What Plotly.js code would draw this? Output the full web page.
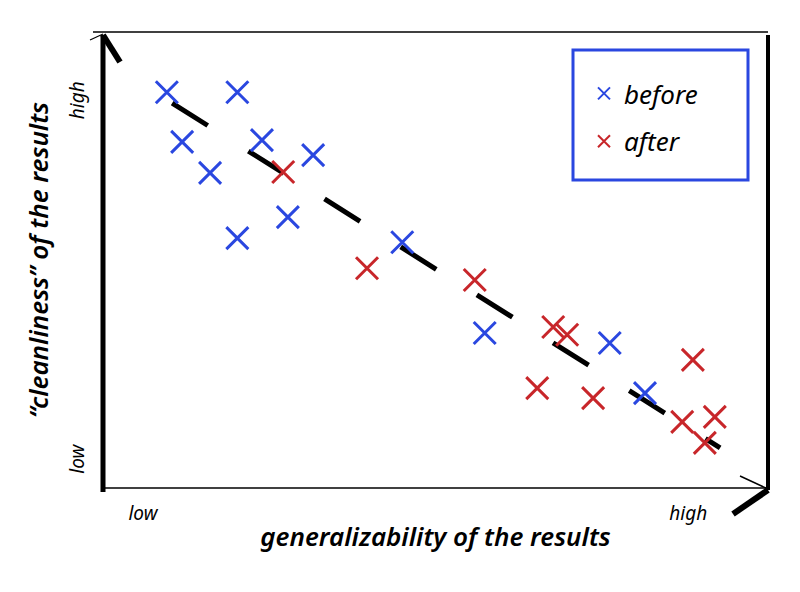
<!DOCTYPE html>
<html>
<head>
<meta charset="utf-8">
<script src="https://cdn.plot.ly/plotly-3.0.1.min.js"></script>
<style>html,body{margin:0;padding:0;background:#fff;}#chart{width:800px;height:592px;}</style>
</head>
<body>
<div id="chart"></div>
<script>
// Data (arbitrary 0-100 scale on both axes)
const beforeX = [9.6, 20.2, 11.9, 16.1, 23.9, 31.6, 27.8, 20.2, 45.0, 57.4, 76.2, 81.5];
const beforeY = [86.8, 86.8, 75.9, 69.1, 76.3, 73.0, 59.4, 54.8, 53.9, 34.0, 31.8, 20.8];
const afterX = [27.1, 39.7, 55.9, 67.7, 69.8, 65.3, 73.7, 88.7, 87.1, 92.0, 90.5];
const afterY = [69.3, 48.2, 45.6, 35.3, 33.6, 21.9, 19.7, 28.1, 14.5, 15.6, 9.9];
const trendX = [10.4, 92.8];
const trendY = [84.4, 8.8];
const xTickVals = [6.0, 88.0];
const yTickVals = [5.7, 84.4];
const tickText = ["low", "high"];
const seriesNames = ["before", "after"];

const FONT = "Noto Sans, DejaVu Sans, sans-serif";
const BLUE = "#2a47e0";
const RED = "#c8262a";

const traces = [
  {
    x: trendX, y: trendY, mode: "lines", showlegend: false, hoverinfo: "skip",
    line: {color: "#000", width: 5, dash: "42px,48px"}
  },
  {
    x: beforeX, y: beforeY, mode: "markers", name: seriesNames[0], legendgroup: "a",
    marker: {symbol: "x-thin", size: 22, color: BLUE, line: {color: BLUE, width: 3}}
  },
  {
    x: afterX, y: afterY, mode: "markers", name: seriesNames[1], legendgroup: "b",
    marker: {symbol: "x-thin", size: 22, color: RED, line: {color: RED, width: 3}}
  }
];

const W = 665, H = 456; // plot area px
const px = v => (v - 103) / W;
const py = v => (488 - v) / H;
const ln = (x0, y0, x1, y1, w) => ({
  type: "line", xref: "paper", yref: "paper",
  x0: px(x0), y0: py(y0), x1: px(x1), y1: py(y1),
  line: {color: "#000", width: w}, layer: "above"
});

const shapes = [
  ln(93, 32, 768, 32, 1.5),      // top border
  ln(103, 488, 768, 488, 1.5),   // bottom axis
  ln(103, 35, 103, 492, 5),      // left axis
  ln(768, 35, 768, 490, 4),      // right border
  ln(103, 35, 120, 62, 6),       // top arrow head
  ln(103, 34, 90, 40, 1.2),
  ln(740, 476, 768, 489, 1.5),   // right arrow head
  ln(733, 514, 768, 490, 6),
  {type: "rect", xref: "paper", yref: "paper",
   x0: px(573), y0: py(180), x1: px(748), y1: py(50),
   line: {color: BLUE, width: 3}, fillcolor: "rgba(0,0,0,0)", layer: "above"}
];

const layout = {
  width: 800, height: 592,
  margin: {l: 103, r: 32, t: 32, b: 104},
  paper_bgcolor: "#fff", plot_bgcolor: "#fff",
  font: {family: FONT, color: "#000"},
  showlegend: true,
  legend: {
    x: px(584), y: py(70), xanchor: "left", yanchor: "top",
    bgcolor: "rgba(0,0,0,0)", borderwidth: 0,
    font: {family: FONT, size: 26, style: "italic"},
    traceorder: "grouped", tracegroupgap: 11, itemsizing: "constant"
  },
  xaxis: {
    range: [0, 100], showgrid: false, zeroline: false, showline: false,
    tickvals: xTickVals, ticktext: tickText, ticks: "", ticklen: 0,
    ticklabelstandoff: 12,
    tickfont: {family: FONT, size: 19, style: "italic"},
    title: {text: "generalizability of the results", standoff: 2,
            font: {family: FONT, size: 26, style: "italic", weight: 600}},
    fixedrange: true
  },
  yaxis: {
    range: [0, 100], showgrid: false, zeroline: false, showline: false,
    tickvals: yTickVals, ticktext: tickText, ticks: "", ticklen: 0,
    tickangle: -90, ticklabelstandoff: 14,
    tickfont: {family: FONT, size: 19, style: "italic"},
    title: {text: "“cleanliness” of the results", standoff: 8,
            font: {family: FONT, size: 26, style: "italic", weight: 600}},
    fixedrange: true
  },
  shapes: shapes
};

Plotly.newPlot("chart", traces, layout, {displayModeBar: false, staticPlot: true});
</script>
</body>
</html>
